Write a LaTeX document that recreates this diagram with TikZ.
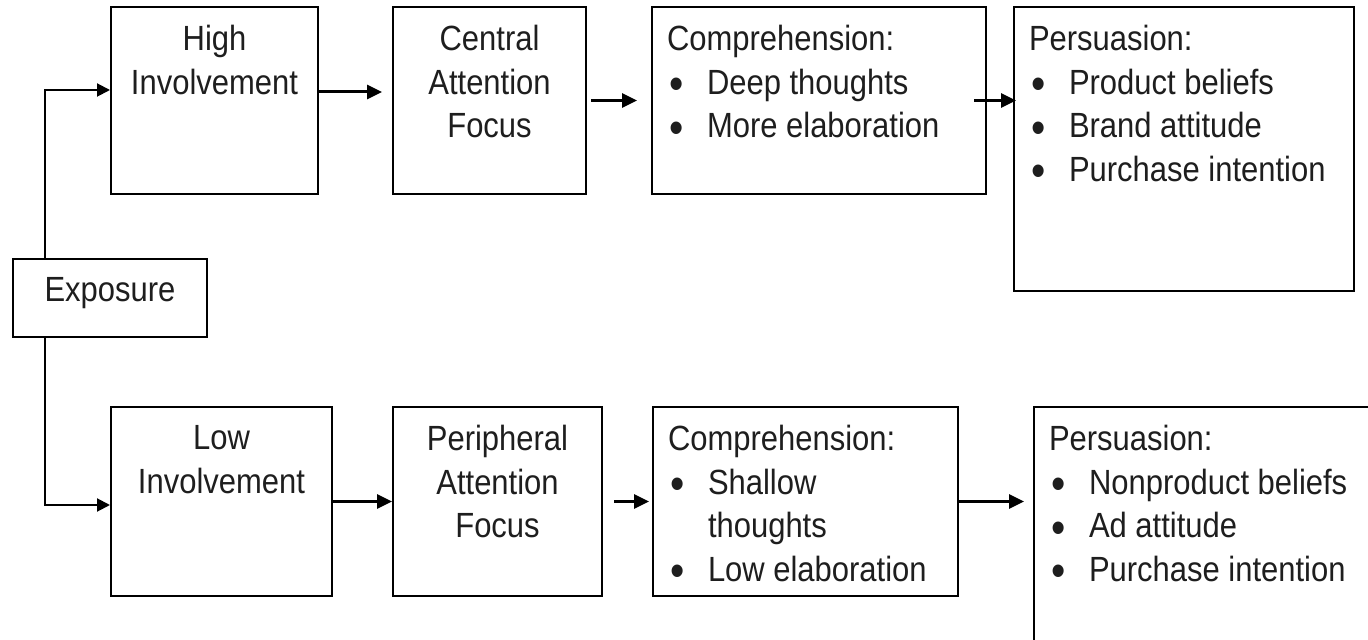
\documentclass[tikz,border=0pt]{standalone}
\usepackage{fontspec}
\setmainfont{Liberation Sans}[FakeStretch=0.885]
\usetikzlibrary{arrows.meta}
\definecolor{DiagramInk}{HTML}{1E1E1E}
\newcommand{\BoxText}[3]{%
  \begin{minipage}[c][#2][t]{#1}\vspace*{9.25pt}#3\end{minipage}%
}
\newcommand{\ListItem}[1]{\makebox[20pt][l]{\hspace{1pt}\raisebox{-2.8pt}{\fontsize{23pt}{23pt}\selectfont\textbullet}}#1}
\tikzset{
  diagram/.style={x=0.5pt,y=-0.5pt,font=\fontsize{17.5pt}{21.75pt}\selectfont,text=DiagramInk},
  stage/.style={draw=black,line width=1pt,inner sep=0pt,fill=white},
  flow/.style={-{Triangle[length=7.5pt,width=7pt]},line width=1.5pt,draw=black},
  branch/.style={-{Triangle[length=6.5pt,width=6.5pt]},line width=1pt,draw=black},
}

\begin{document}
\begin{tikzpicture}[diagram]
  \fill[white] (0,0) rectangle (1368,640);
  \useasboundingbox (0,0) rectangle (1368,640);
  \clip (0,0) rectangle (1368,640);

  % upper route
  \node[stage] (hi) at (214.5,100.5)
    {\BoxText{103.5pt}{93.5pt}{\centering High\\Involvement}};
  \node[stage] (cen) at (489.5,100.5)
    {\BoxText{96.5pt}{93.5pt}{\centering Central\\Attention\\Focus}};
  \node[stage] (compH) at (819,100.5)
    {\BoxText{167pt}{93.5pt}{\leftskip=7.5pt Comprehension:\\
      \ListItem{Deep thoughts}\\
      \ListItem{More elaboration}}};
  \node[stage] (persH) at (1184,149)
    {\BoxText{170pt}{142pt}{\leftskip=7.5pt Persuasion:\\
      \ListItem{Product beliefs}\\
      \ListItem{Brand attitude}\\
      \ListItem{Purchase intention}}};

  \node[stage] (exp) at (110,298)
    {\BoxText{97pt}{39pt}{\centering Exposure}};

  % lower route
  \node[stage] (low) at (221.5,501.5)
    {\BoxText{110.5pt}{94.5pt}{\centering Low\\Involvement}};
  \node[stage] (per) at (497.5,501.5)
    {\BoxText{104.5pt}{94.5pt}{\centering Peripheral\\Attention\\Focus}};
  \node[stage] (compL) at (805.5,501.5)
    {\BoxText{152.5pt}{94.5pt}{\leftskip=7.5pt Comprehension:\\
      \ListItem{Shallow}\\
      \hspace*{20pt}thoughts\\
      \ListItem{Low elaboration}}};
  \node[stage] (persL) at (1207,531)
    {\BoxText{173pt}{124pt}{\leftskip=7.5pt Persuasion:\\
      \ListItem{Nonproduct beliefs}\\
      \ListItem{Ad attitude}\\
      \ListItem{Purchase intention}}};

  \draw[branch] ([xshift=16.5pt]exp.north west) |- ([yshift=5.25pt]hi.west);
  \draw[branch] ([xshift=16.5pt]exp.south west) |- ([yshift=-1.75pt]low.west);

  \draw[flow,shorten >=5pt] ([yshift=4.25pt]hi.east) -- ([yshift=4.25pt]cen.west);
  \draw[flow,shorten <=2pt,shorten >=7pt] (cen.east) -- (compH.west);
  \draw[flow,shorten <=-6.5pt,shorten >=-1.5pt] (compH.east) -- (compH.east -| persH.west);
  \draw[flow] (low.east) -- (per.west);
  \draw[flow,shorten <=5.5pt,shorten >=1.5pt] (per.east) -- (compL.west);
  \draw[flow,shorten >=4.5pt] (compL.east) -- (compL.east -| persL.west);
\end{tikzpicture}
\end{document}
